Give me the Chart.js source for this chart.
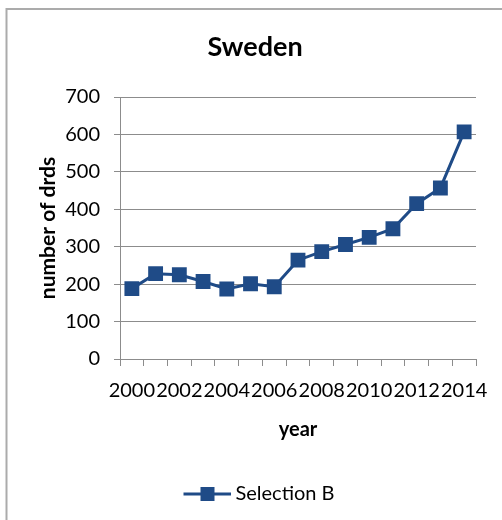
<!DOCTYPE html>
<html>
<head>
<meta charset="utf-8">
<script src="https://cdn.jsdelivr.net/npm/chart.js@4"></script>
<style>
  html, body { margin: 0; padding: 0; background: #ffffff; }
  #wrap { width: 502px; height: 520px; }
</style>
</head>
<body>
<div id="wrap"><canvas id="c" width="502" height="520"></canvas></div>
<script>
// Yearly counts for Sweden
const years = ['2000','2001','2002','2003','2004','2005','2006','2007','2008','2009','2010','2011','2012','2013','2014'];
const selectionB = [188, 228, 225, 207, 187, 201, 193, 264, 287, 306, 325, 348, 415, 457, 607];
const yTicks = [0, 100, 200, 300, 400, 500, 600, 700];

const BLUE = '#1f4b87';
const GRID = '#8c8c8c';
const FONT = 'Lato, "DejaVu Sans", sans-serif';

// Legend symbol: a short line with a square marker in the middle,
// drawn on the right part of a slightly wider canvas
function legendSymbol() {
  const cv = document.createElement('canvas');
  cv.width = 62; cv.height = 16;
  const g = cv.getContext('2d');
  g.strokeStyle = BLUE; g.lineWidth = 3;
  g.beginPath(); g.moveTo(14, 8); g.lineTo(62, 8); g.stroke();
  g.fillStyle = BLUE;
  g.fillRect(31, 1, 14, 14);
  return cv;
}

// Gray frame on the top and left edges
const framePlugin = {
  id: 'frame',
  afterDraw(chart) {
    const ctx = chart.ctx;
    ctx.save();
    ctx.strokeStyle = '#ababab';
    ctx.lineWidth = 2;
    ctx.beginPath();
    ctx.moveTo(6.5, 520); ctx.lineTo(6.5, 9); ctx.lineTo(502, 9);
    ctx.stroke();
    ctx.restore();
  }
};

new Chart(document.getElementById('c'), {
  type: 'line',
  data: {
    labels: years,
    datasets: [{
      label: 'Selection B',
      data: selectionB,
      borderColor: BLUE,
      backgroundColor: BLUE,
      borderWidth: 3,
      pointStyle: 'rect',
      pointRadius: 10.5,
      pointHoverRadius: 10.5,
      pointBackgroundColor: BLUE,
      pointBorderColor: BLUE,
      pointBorderWidth: 0,
      tension: 0
    }]
  },
  options: {
    responsive: false,
    animation: false,
    devicePixelRatio: 1,
    layout: { padding: { left: 8, right: 0, top: 0, bottom: 6 } },
    plugins: {
      title: {
        display: true,
        text: 'Sweden',
        color: '#000000',
        font: { family: FONT, size: 27, weight: 'bold', lineHeight: 1.2 },
        padding: { top: 31, bottom: 33.6 }
      },
      legend: {
        display: true,
        position: 'bottom',
        labels: {
          color: '#000000',
          font: { family: FONT, size: 20 },
          usePointStyle: true,
          pointStyleWidth: 50,
          padding: 10,
          generateLabels(chart) {
            const ds = chart.data.datasets[0];
            return [{ text: ds.label, pointStyle: legendSymbol(), fillStyle: BLUE, strokeStyle: BLUE, lineWidth: 0, datasetIndex: 0, hidden: false }];
          }
        }
      },
      tooltip: { enabled: false }
    },
    scales: {
      x: {
        type: 'category',
        offset: true,
        afterFit(scale) { scale.height = 115; },
        grid: { display: true, offset: true, drawOnChartArea: false, drawTicks: true, tickLength: 7, color: GRID, lineWidth: 1 },
        border: { display: true, color: GRID, width: 1 },
        ticks: {
          autoSkip: false,
          maxRotation: 0,
          minRotation: 0,
          padding: 13,
          color: '#000000',
          font: { family: FONT, size: 20 },
          callback(value, index) { return index % 2 === 0 ? years[index] : ''; }
        },
        title: {
          display: true,
          text: 'year',
          color: '#000000',
          font: { family: FONT, size: 20, weight: 'bold', lineHeight: 1.2 },
          padding: { top: 4, bottom: 32 }
        }
      },
      y: {
        min: 0,
        max: 700,
        afterFit(scale) { scale.width = 112; },
        afterBuildTicks(scale) { scale.ticks = yTicks.map(v => ({ value: v })); },
        grid: { display: true, drawTicks: true, tickLength: 6, color: GRID, lineWidth: 1 },
        border: { display: true, color: GRID, width: 1 },
        ticks: {
          padding: 14,
          color: '#000000',
          font: { family: FONT, size: 20 }
        },
        title: {
          display: true,
          text: 'number of drds',
          color: '#000000',
          font: { family: FONT, size: 21, weight: 'bold', lineHeight: 1.2 },
          padding: { top: 28, bottom: 0 }
        }
      },
      // empty right-hand margin beside the plot
      yRight: {
        position: 'right',
        min: 0,
        max: 700,
        afterFit(scale) { scale.width = 26; },
        grid: { display: false, drawTicks: false },
        border: { display: false },
        ticks: { display: false }
      }
    }
  },
  plugins: [framePlugin]
});
</script>
</body>
</html>
